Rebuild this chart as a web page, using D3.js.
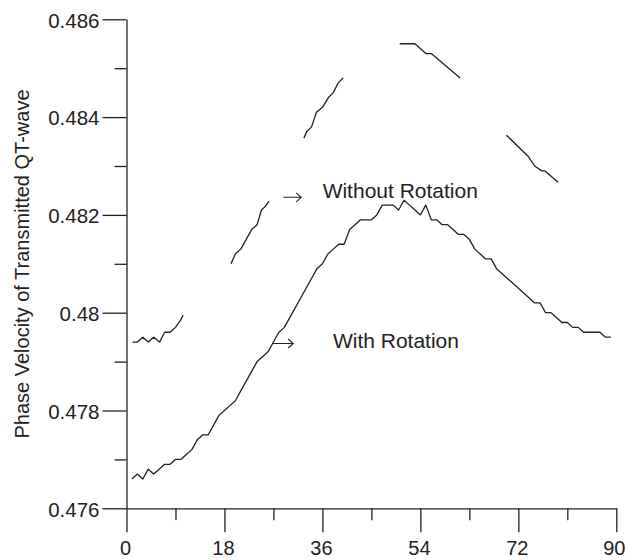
<!DOCTYPE html>
<html>
<head>
<meta charset="utf-8">
<script src="https://cdn.jsdelivr.net/npm/d3@7"></script>
<style>
  html, body { margin: 0; padding: 0; background: #fff; }
  svg { display: block; font-family: "Liberation Sans", Arial, Helvetica, sans-serif; }
</style>
</head>
<body>
<svg id="chart" width="626" height="560"></svg>
<script>
// ---- Data ----
const xMajorTicks = [0, 18, 36, 54, 72, 90];
const xMinorTicks = [9, 27, 45, 63, 81];
const yMajorTicks = [0.476, 0.478, 0.48, 0.482, 0.484, 0.486];
const yMinorTicks = [0.477, 0.479, 0.481, 0.483, 0.485];
const yTickLabels = ["0.476", "0.478", "0.48", "0.482", "0.484", "0.486"];

// With Rotation: angle (deg) and phase velocity
const withAngles = [1,2,3,4,5,6,7,8,9,10,11,12,13,14,15,16,17,18,19,20,21,22,23,24,25,26,27,28,29,30,
  31,32,33,34,35,36,37,38,39,40,41,42,43,44,45,46,47,48,49,50,51,52,53,54,55,56,57,58,59,60,
  61,62,63,64,65,66,67,68,75,76,77,78,79,80,81,82,83,84,87,88,89];
const withValues = [0.4766,0.4767,0.4766,0.4768,0.4767,0.4768,0.4769,0.4769,0.4770,0.4770,
  0.4771,0.4772,0.4774,0.4775,0.4775,0.4777,0.4779,0.4780,0.4781,0.4782,
  0.4784,0.4786,0.4788,0.4790,0.4791,0.4792,0.4794,0.4796,0.4797,0.4799,
  0.4801,0.4803,0.4805,0.4807,0.4809,0.4810,0.4812,0.4813,0.4814,0.4814,
  0.4817,0.4818,0.4819,0.4819,0.4819,0.4820,0.4822,0.4822,0.4822,0.4821,
  0.4823,0.4822,0.4821,0.4820,0.4822,0.4819,0.4819,0.4818,0.4818,0.4817,
  0.4816,0.4816,0.4815,0.4813,0.4812,0.4811,0.4811,0.4809,
  0.4802,0.4802,0.4800,0.4800,0.4799,0.4798,0.4798,0.4797,0.4797,0.4796,0.4796,0.4795,0.4795];

// Without Rotation: broken into segments (null = gap)
const withoutAngles = [1.1,2,3,4,5,6.1,7,8,9,10,10.4, null,
  19.2,20,21,22,23,24,24.8,25.4,26.2, null,
  32.6,33.1,34,34.9,36,37.1,38,38.9,39.8, null,
  50.2,53,55,56,61.3, null,
  69.8,73.8,75,76.3,76.9,79.3];
const withoutValues = [0.4794,0.4794,0.4795,0.4794,0.4795,0.4794,0.4796,0.4796,0.4797,0.47986,0.47995, null,
  0.4810,0.4812,0.4813,0.4815,0.4817,0.4818,0.4821,0.48216,0.48228, null,
  0.48357,0.4837,0.4838,0.4841,0.4842,0.4844,0.4845,0.4847,0.4848, null,
  0.4855,0.4855,0.4853,0.4853,0.4848, null,
  0.48363,0.4832,0.4830,0.4829,0.4829,0.48267];

const labelTexts = ["Without Rotation", "With Rotation"];
const yTitle = "Phase Velocity of Transmitted QT-wave";

// ---- Layout ----
const svg = d3.select("#chart");
const ink = "#222";
const x = d3.scaleLinear().domain([0, 90]).range([126.5, 616.3]);
const y = d3.scaleLinear().domain([0.476, 0.486]).range([508.3, 19.3]);

// Axes: minor ticks
svg.append("g").attr("transform", `translate(0,${y(0.476)})`)
  .call(d3.axisBottom(x).tickValues(xMinorTicks).tickSize(12).tickFormat(""))
  .call(g => g.select(".domain").remove());
svg.append("g").attr("transform", `translate(${x(0)},0)`)
  .call(d3.axisLeft(y).tickValues(yMinorTicks).tickSize(12).tickFormat(""))
  .call(g => g.select(".domain").remove());

// Major ticks + labels
const gx = svg.append("g").attr("transform", `translate(0,${y(0.476)})`)
  .call(d3.axisBottom(x).tickValues(xMajorTicks).tickSize(24).tickSizeOuter(0).tickPadding(9).tickFormat(d3.format("d")));
const gy = svg.append("g").attr("transform", `translate(${x(0)},0)`)
  .call(d3.axisLeft(y).tickValues(yMajorTicks).tickSize(24).tickSizeOuter(0).tickPadding(3)
    .tickFormat((d, i) => yTickLabels[i]));

svg.selectAll(".tick line, .domain").attr("stroke", ink).attr("stroke-width", 1.3);
svg.selectAll(".tick text").attr("fill", ink).style("font-size", "20.5px")
  .style("font-family", "'Liberation Sans', Arial, sans-serif");
gx.selectAll(".tick text").style("font-size", "20px").attr("dx", "-1.5");
gx.selectAll(".tick text").filter(d => d === 90).attr("dx", "-2.5");
gy.selectAll(".tick text").attr("dy", "0.38em");

// Y title
svg.append("text")
  .attr("transform", `translate(28.5,264) rotate(-90)`)
  .attr("text-anchor", "middle")
  .attr("fill", ink)
  .style("font-size", "20px")
  .text(yTitle);

// Lines
const line = d3.line()
  .defined(d => d[0] !== null && d[1] !== null)
  .x(d => x(d[0])).y(d => y(d[1]));

svg.append("path")
  .datum(withAngles.map((a, i) => [a, withValues[i]]))
  .attr("d", line).attr("fill", "none").attr("stroke", ink).attr("stroke-width", 1.3)
  .attr("stroke-linejoin", "round");

svg.append("path")
  .datum(withoutAngles.map((a, i) => [a, withoutValues[i]]))
  .attr("d", line).attr("fill", "none").attr("stroke", ink).attr("stroke-width", 1.3)
  .attr("stroke-linejoin", "round");

// Arrows + labels
function arrow(x0, x1, yy) {
  const px0 = x(x0), px1 = x(x1), py = y(yy);
  svg.append("path")
    .attr("d", `M${px0},${py}H${px1}M${px1 - 5},${py - 4.5}L${px1},${py}L${px1 - 5},${py + 4.5}`)
    .attr("fill", "none").attr("stroke", ink).attr("stroke-width", 1.1);
}
arrow(28.8, 32.1, 0.48236);
arrow(26.97, 30.64, 0.47937);

svg.append("text").attr("x", x(36.04)).attr("y", y(0.48234))
  .attr("fill", ink).style("font-size", "21px").text(labelTexts[0]);
svg.append("text").attr("x", x(37.93)).attr("y", y(0.47927))
  .attr("fill", ink).style("font-size", "21px").text(labelTexts[1]);
</script>
</body>
</html>
